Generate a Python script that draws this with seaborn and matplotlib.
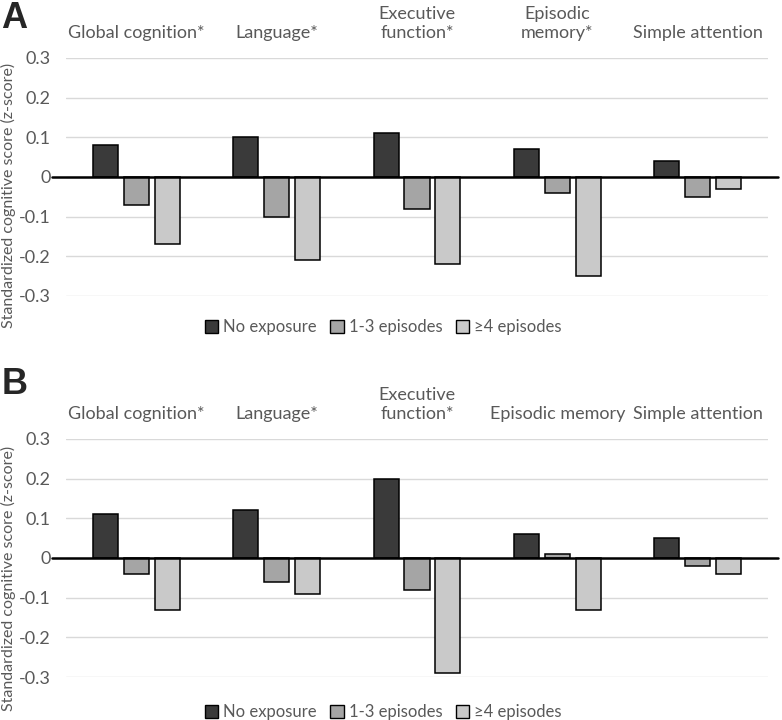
import numpy as np
import pandas as pd
import seaborn as sns
import matplotlib.pyplot as plt
from matplotlib.patches import Patch

sns.set_theme(style="white")
plt.rcParams['font.family'] = ['Lato', 'DejaVu Sans']

# data
domains_a = ['Global cognition*', 'Language*', 'Executive\nfunction*', 'Episodic\nmemory*', 'Simple attention']
domains_b = ['Global cognition*', 'Language*', 'Executive\nfunction*', 'Episodic memory', 'Simple attention']
groups = ['No exposure', '1-3 episodes', '≥4 episodes']

a_none = [0.08, 0.10, 0.11, 0.07, 0.04]
a_low = [-0.07, -0.10, -0.08, -0.04, -0.05]
a_high = [-0.17, -0.21, -0.22, -0.25, -0.03]

b_none = [0.11, 0.12, 0.20, 0.06, 0.05]
b_low = [-0.04, -0.06, -0.08, 0.01, -0.02]
b_high = [-0.13, -0.09, -0.29, -0.13, -0.04]

yticks = [-0.3, -0.2, -0.1, 0, 0.1, 0.2, 0.3]
ytick_labels = ['-0.3', '-0.2', '-0.1', '0', '0.1', '0.2', '0.3']

colors = ['#3a3a3a', '#a5a5a5', '#c9c9c9']
text_gray = '#595959'


def long_form(domains, none, low, high):
    return pd.DataFrame({'domain': domains * 3,
                         'exposure': np.repeat(groups, len(domains)),
                         'score': none + low + high})


def draw_panel(ax, df, domains):
    sns.barplot(data=df, x='domain', y='score', hue='exposure', order=domains,
                hue_order=groups, palette=colors, saturation=1, width=0.66, gap=0.19,
                edgecolor='black', linewidth=1.1, errorbar=None, legend=False, ax=ax)
    ax.set_ylim(-0.3, 0.3)
    ax.set_xlim(-0.5, 4.5)
    ax.set_yticks(yticks)
    ax.set_yticklabels(ytick_labels, fontsize=13, color=text_gray)
    ax.yaxis.grid(True, color='#d9d9d9', lw=1)
    ax.set_axisbelow(True)
    ax.axhline(0, xmin=-0.02, xmax=1.014, color='black', lw=1.8, clip_on=False, zorder=5)
    ax.xaxis.tick_top()
    ax.set_xticks(range(len(domains)))
    ax.set_xticklabels(domains, fontsize=13, color=text_gray, linespacing=1.25)
    ax.tick_params(axis='x', length=0, pad=12)
    ax.tick_params(axis='y', length=0, pad=11)
    ax.set_xlabel('')
    ax.set_ylabel('')
    for s in ax.spines.values():
        s.set_visible(False)


fig = plt.figure(figsize=(7.82, 7.2), dpi=100)
ax_a = fig.add_axes([0.0844, 0.5889, 0.8977, 0.3306])
ax_b = fig.add_axes([0.0844, 0.0597, 0.8977, 0.3306])

draw_panel(ax_a, long_form(domains_a, a_none, a_low, a_high), domains_a)
draw_panel(ax_b, long_form(domains_b, b_none, b_low, b_high), domains_b)

ylab = 'Standardized cognitive score (z-score)'
fig.text(0.011, 0.729, ylab, rotation=90, va='center', ha='center', fontsize=11.5, color=text_gray)
fig.text(0.011, 0.196, ylab, rotation=90, va='center', ha='center', fontsize=11.5, color=text_gray)

fig.text(0.002, 1 - 18 / 720, 'A', fontsize=26, fontweight='bold', family='Liberation Sans', va='center')
fig.text(0.002, 1 - 385 / 720, 'B', fontsize=26, fontweight='bold', family='Liberation Sans', va='center')

handles = [Patch(facecolor=c, edgecolor='black', lw=1) for c in colors]
for yy in [1 - 327 / 720, 1 - 712 / 720]:
    fig.legend(handles=handles, labels=groups, loc='center', bbox_to_anchor=(0.49, yy), ncol=3,
               frameon=False, fontsize=12, labelcolor=text_gray, handlelength=0.8, handleheight=0.8,
               handletextpad=0.3, columnspacing=0.8, borderpad=0)

fig.savefig('out.png', dpi=100)
